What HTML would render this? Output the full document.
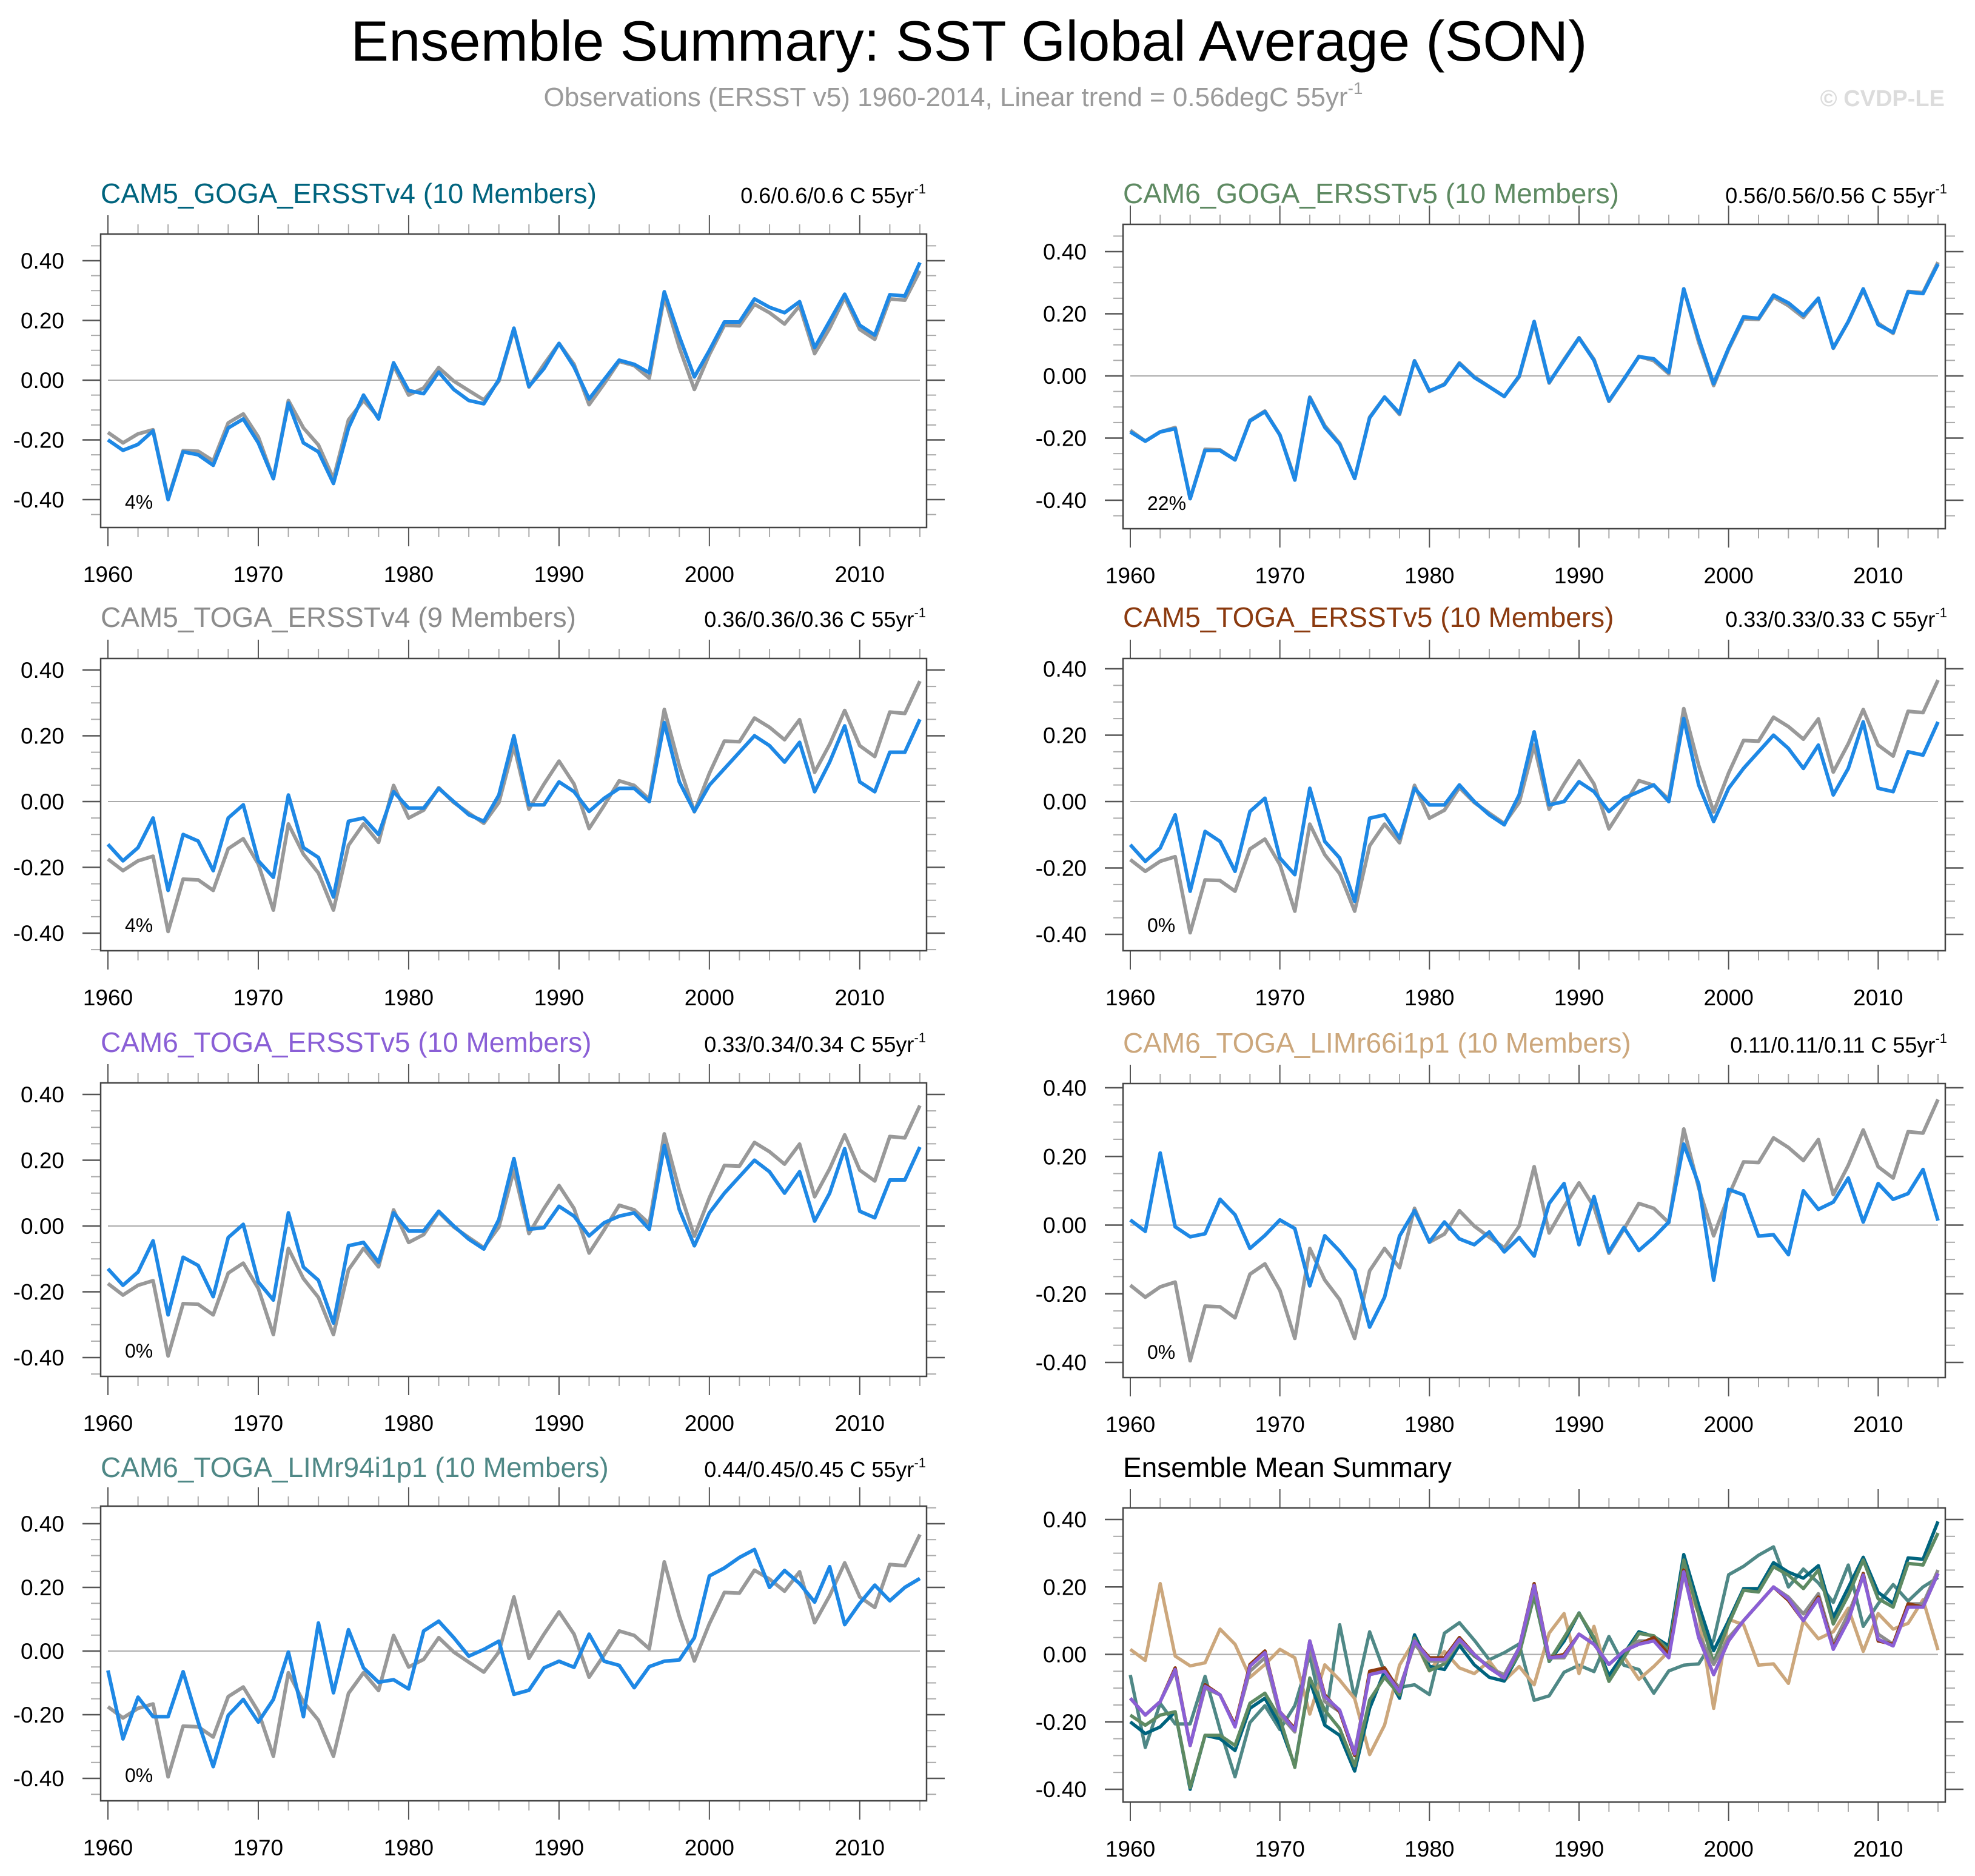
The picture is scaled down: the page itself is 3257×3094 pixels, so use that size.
<!DOCTYPE html>
<html><head><meta charset="utf-8"><title>Ensemble Summary: SST Global Average (SON)</title>
<style>html,body{margin:0;padding:0;background:#fff}svg{display:block}text{font-family:"Liberation Sans",Arial,sans-serif}</style>
</head><body>
<svg id="chart" xmlns="http://www.w3.org/2000/svg" width="3257" height="3094" viewBox="0 0 3257 3094">
<rect x="0" y="0" width="3257" height="3094" fill="#fff"/>
<text x="1598" y="100" font-size="94" text-anchor="middle" fill="#000">Ensemble Summary: SST Global Average (SON)</text>
<text x="1572" y="175" font-size="44" text-anchor="middle" fill="#9a9a9a">Observations (ERSST v5) 1960-2014, Linear trend = 0.56degC 55yr<tspan font-size="28" dy="-20">-1</tspan></text>
<text x="3207" y="175" font-size="38" font-weight="bold" text-anchor="end" fill="#dcdcdc">© CVDP-LE</text>
<g id="panels"></g>
</svg>
<script>
const years = [1960,1961,1962,1963,1964,1965,1966,1967,1968,1969,1970,1971,1972,1973,1974,1975,1976,1977,1978,1979,1980,1981,1982,1983,1984,1985,1986,1987,1988,1989,1990,1991,1992,1993,1994,1995,1996,1997,1998,1999,2000,2001,2002,2003,2004,2005,2006,2007,2008,2009,2010,2011,2012,2013,2014];
const xTickLabels = [1960,1970,1980,1990,2000,2010];
const yTickLabels = ["0.40","0.20","0.00","-0.20","-0.40"];
const yTickValues = [0.4,0.2,0,-0.2,-0.4];
const obs = [-0.175,-0.21,-0.18,-0.166,-0.395,-0.236,-0.238,-0.27,-0.143,-0.113,-0.19,-0.33,-0.068,-0.16,-0.217,-0.33,-0.133,-0.068,-0.124,0.049,-0.05,-0.026,0.042,-0.003,-0.035,-0.066,-0.003,0.17,-0.023,0.053,0.123,0.053,-0.082,-0.012,0.063,0.049,0.007,0.28,0.109,-0.031,0.086,0.184,0.182,0.254,0.226,0.188,0.249,0.089,0.174,0.277,0.17,0.137,0.272,0.268,0.366];
const cam5Goga = [-0.20,-0.235,-0.215,-0.17,-0.40,-0.24,-0.25,-0.285,-0.16,-0.13,-0.21,-0.33,-0.077,-0.21,-0.24,-0.346,-0.16,-0.05,-0.13,0.058,-0.035,-0.045,0.027,-0.031,-0.068,-0.079,0.002,0.174,-0.021,0.039,0.123,0.044,-0.063,0.002,0.067,0.053,0.025,0.296,0.146,0.011,0.10,0.195,0.195,0.272,0.244,0.226,0.263,0.109,0.198,0.288,0.184,0.151,0.286,0.282,0.394];
const cam6Goga = [-0.18,-0.21,-0.18,-0.17,-0.395,-0.24,-0.24,-0.27,-0.145,-0.115,-0.19,-0.335,-0.07,-0.165,-0.22,-0.33,-0.135,-0.068,-0.12,0.048,-0.048,-0.028,0.04,-0.005,-0.035,-0.066,0.0,0.175,-0.02,0.05,0.122,0.05,-0.08,-0.01,0.062,0.055,0.012,0.28,0.12,-0.025,0.09,0.19,0.185,0.26,0.235,0.195,0.25,0.09,0.175,0.28,0.165,0.14,0.27,0.265,0.36];
const cam5TogaV4 = [-0.13,-0.18,-0.14,-0.05,-0.27,-0.10,-0.12,-0.21,-0.05,-0.01,-0.18,-0.23,0.02,-0.14,-0.17,-0.29,-0.06,-0.05,-0.10,0.03,-0.02,-0.02,0.04,0.00,-0.04,-0.06,0.02,0.20,-0.01,-0.01,0.06,0.03,-0.03,0.01,0.04,0.04,0.00,0.24,0.06,-0.03,0.05,0.10,0.15,0.20,0.17,0.12,0.18,0.03,0.12,0.23,0.06,0.03,0.15,0.15,0.25];
const cam5TogaV5 = [-0.13,-0.18,-0.14,-0.04,-0.27,-0.09,-0.12,-0.21,-0.03,0.01,-0.17,-0.22,0.04,-0.12,-0.17,-0.30,-0.05,-0.04,-0.11,0.04,-0.01,-0.01,0.05,0.00,-0.04,-0.07,0.02,0.21,-0.01,0.00,0.06,0.03,-0.03,0.01,0.03,0.05,0.00,0.25,0.05,-0.06,0.04,0.10,0.15,0.20,0.16,0.10,0.17,0.02,0.10,0.24,0.04,0.03,0.15,0.14,0.24];
const cam6TogaV5 = [-0.13,-0.18,-0.14,-0.045,-0.27,-0.095,-0.12,-0.215,-0.035,0.005,-0.17,-0.225,0.04,-0.125,-0.165,-0.295,-0.06,-0.05,-0.11,0.04,-0.015,-0.015,0.045,0.00,-0.04,-0.07,0.02,0.205,-0.01,-0.005,0.06,0.03,-0.03,0.01,0.03,0.04,-0.01,0.245,0.05,-0.06,0.04,0.10,0.15,0.20,0.165,0.10,0.165,0.015,0.10,0.235,0.045,0.025,0.14,0.14,0.24];
const limR66 = [0.015,-0.018,0.21,-0.005,-0.034,-0.025,0.075,0.03,-0.068,-0.03,0.015,-0.01,-0.177,-0.031,-0.076,-0.131,-0.297,-0.21,-0.032,0.042,-0.049,0.009,-0.04,-0.057,-0.02,-0.078,-0.036,-0.09,0.063,0.121,-0.057,0.083,-0.078,-0.007,-0.074,-0.036,0.009,0.236,0.12,-0.16,0.104,0.088,-0.032,-0.028,-0.086,0.1,0.046,0.067,0.137,0.009,0.121,0.075,0.092,0.162,0.013];
const limR94 = [-0.061,-0.276,-0.145,-0.206,-0.206,-0.065,-0.223,-0.363,-0.202,-0.152,-0.223,-0.152,-0.003,-0.206,0.088,-0.131,0.067,-0.053,-0.098,-0.09,-0.119,0.063,0.094,0.042,-0.016,0.005,0.031,-0.136,-0.123,-0.053,-0.032,-0.051,0.053,-0.032,-0.045,-0.115,-0.049,-0.032,-0.028,0.042,0.236,0.261,0.294,0.319,0.2,0.253,0.212,0.154,0.265,0.083,0.15,0.207,0.158,0.2,0.228];

const NS = "http://www.w3.org/2000/svg";
const root = document.getElementById('panels');
function mk(tag, attrs, parent){const e=document.createElementNS(NS,tag);for(const k in attrs)e.setAttribute(k,attrs[k]);(parent||root).appendChild(e);return e;}

const colL = {bx0:166,bx1:1528,yr0:178,yr1:1517,titleX:166,statX:1527};
const colR = {bx0:1852,bx1:3208,yr0:1864,yr1:3196,titleX:1852,statX:3211};
const panels = [
 {id:'cam5-goga-ersstv4',col:colL,title:'CAM5_GOGA_ERSSTv4 (10 Members)',color:'#00647e',stat:'0.6/0.6/0.6 C 55yr',pct:'4%',top:386,bot:870,p4:430,m4:824,titleY:335,series:cam5Goga},
 {id:'cam6-goga-ersstv5',col:colR,title:'CAM6_GOGA_ERSSTv5 (10 Members)',color:'#5e8a62',stat:'0.56/0.56/0.56 C 55yr',pct:'22%',top:370,bot:872,p4:415,m4:825,titleY:335,series:cam6Goga},
 {id:'cam5-toga-ersstv4',col:colL,title:'CAM5_TOGA_ERSSTv4 (9 Members)',color:'#8c8c8c',stat:'0.36/0.36/0.36 C 55yr',pct:'4%',top:1086,bot:1568,p4:1105,m4:1539,titleY:1034,series:cam5TogaV4},
 {id:'cam5-toga-ersstv5',col:colR,title:'CAM5_TOGA_ERSSTv5 (10 Members)',color:'#8b3a0f',stat:'0.33/0.33/0.33 C 55yr',pct:'0%',top:1086,bot:1568,p4:1103,m4:1541,titleY:1034,series:cam5TogaV5},
 {id:'cam6-toga-ersstv5',col:colL,title:'CAM6_TOGA_ERSSTv5 (10 Members)',color:'#8a5fd6',stat:'0.33/0.34/0.34 C 55yr',pct:'0%',top:1786,bot:2270,p4:1805,m4:2239,titleY:1735,series:cam6TogaV5},
 {id:'cam6-toga-limr66',col:colR,title:'CAM6_TOGA_LIMr66i1p1 (10 Members)',color:'#cca77c',stat:'0.11/0.11/0.11 C 55yr',pct:'0%',top:1787,bot:2272,p4:1794,m4:2247,titleY:1736,series:limR66},
 {id:'cam6-toga-limr94',col:colL,title:'CAM6_TOGA_LIMr94i1p1 (10 Members)',color:'#4f8886',stat:'0.44/0.45/0.45 C 55yr',pct:'0%',top:2484,bot:2970,p4:2513,m4:2933,titleY:2436,series:limR94},
 {id:'ensemble-mean-summary',col:colR,title:'Ensemble Mean Summary',color:'#000',stat:null,pct:null,top:2487,bot:2972,p4:2506,m4:2951,titleY:2436,summary:true}
];
const summarySeries = [
 {name:'limr94',data:limR94,color:'#4f8886'},
 {name:'limr66',data:limR66,color:'#cca77c'},
 {name:'cam5-goga',data:cam5Goga,color:'#00647e'},
 {name:'cam6-goga',data:cam6Goga,color:'#5e8a62'},
 {name:'cam5-toga-v4',data:cam5TogaV4,color:'#8c8c8c'},
 {name:'cam5-toga-v5',data:cam5TogaV5,color:'#8b3a0f'},
 {name:'cam6-toga-v5',data:cam6TogaV5,color:'#8a5fd6'}
];

panels.forEach(p=>{
  const c=p.col;
  const g=mk('g',{});
  
  
  const xS=y=>c.yr0+(y-1960)*(c.yr1-c.yr0)/54;
  const yS=v=>(p.p4+p.m4)/2-v*(p.m4-p.p4)/0.8;
  const vTop=((p.p4+p.m4)/2-p.top)/((p.m4-p.p4)/0.8);
  const vBot=-((p.bot-(p.p4+p.m4)/2)/((p.m4-p.p4)/0.8));
  const t=mk('text',{x:c.titleX,y:p.titleY,'font-size':46,fill:p.color},g);
  t.textContent=p.title;
  
  
  if(p.stat){
    const s=mk('text',{x:c.statX,y:p.titleY,'font-size':36,'text-anchor':'end',fill:'#000'},g);
    
    
    s.textContent=p.stat;
    const sp=mk('tspan',{'font-size':22,dy:-16},s);sp.textContent='-1';
  }
  for(let k=Math.ceil(vBot/0.05);k<=Math.floor(vTop/0.05);k++){
    const v=k*0.05, yy=yS(v), major=(k%4===0);
    const len=major?30:16;
    const l1=mk('line',{x1:c.bx0-len,x2:c.bx0,y1:yy,y2:yy,stroke:major?'#555':'#aaa','stroke-width':major?2.5:2},g);
    
    
    const l2=mk('line',{x1:c.bx1,x2:c.bx1+len,y1:yy,y2:yy,stroke:major?'#555':'#aaa','stroke-width':major?2.5:2},g);
    
    
  }
  yTickValues.forEach((v,i)=>{
    const tl=mk('text',{x:c.bx0-60,y:yS(v)+13,'font-size':37,'text-anchor':'end',fill:'#000'},g);
    
    
    tl.textContent=yTickLabels[i];
  });
  for(let y=1960;y<=2014;y+=2){
    const major=(y%10===0), len=major?31:16, xx=xS(y);
    const a=mk('line',{x1:xx,x2:xx,y1:p.top-len,y2:p.top,stroke:major?'#555':'#aaa','stroke-width':2},g);
    
    
    const b=mk('line',{x1:xx,x2:xx,y1:p.bot,y2:p.bot+len,stroke:major?'#555':'#aaa','stroke-width':2},g);
    
    
  }
  xTickLabels.forEach(y=>{
    const tl=mk('text',{x:xS(y),y:p.bot+90,'font-size':37,'text-anchor':'middle',fill:'#000'},g);
    
    
    tl.textContent=y;
  });
  const z=mk('line',{x1:c.yr0,x2:c.yr1,y1:yS(0),y2:yS(0),stroke:'#aaa','stroke-width':2},g);
  
  
  const path=arr=>arr.map((v,i)=>(i?'L':'M')+xS(years[i]).toFixed(1)+','+yS(v).toFixed(1)).join(' ');
  if(p.summary){
    summarySeries.forEach(s=>{
      const l=mk('path',{d:path(s.data),fill:'none',stroke:s.color,'stroke-width':5.5,'stroke-linejoin':'round'},g);
      
      
    });
  } else {
    const o=mk('path',{d:path(obs),fill:'none',stroke:'#999','stroke-width':6,'stroke-linejoin':'round'},g);
    
    
    const m=mk('path',{d:path(p.series),fill:'none',stroke:'#1e88e5','stroke-width':6,'stroke-linejoin':'round'},g);
    
    
    const pc=mk('text',{x:c.bx0+40,y:p.bot-31,'font-size':32,fill:'#000'},g);
    
    
    pc.textContent=p.pct;
  }
  const box=mk('rect',{x:c.bx0,y:p.top,width:c.bx1-c.bx0,height:p.bot-p.top,fill:'none',stroke:'#444','stroke-width':2.5},g);
  
  
});
</script>
</body></html>
